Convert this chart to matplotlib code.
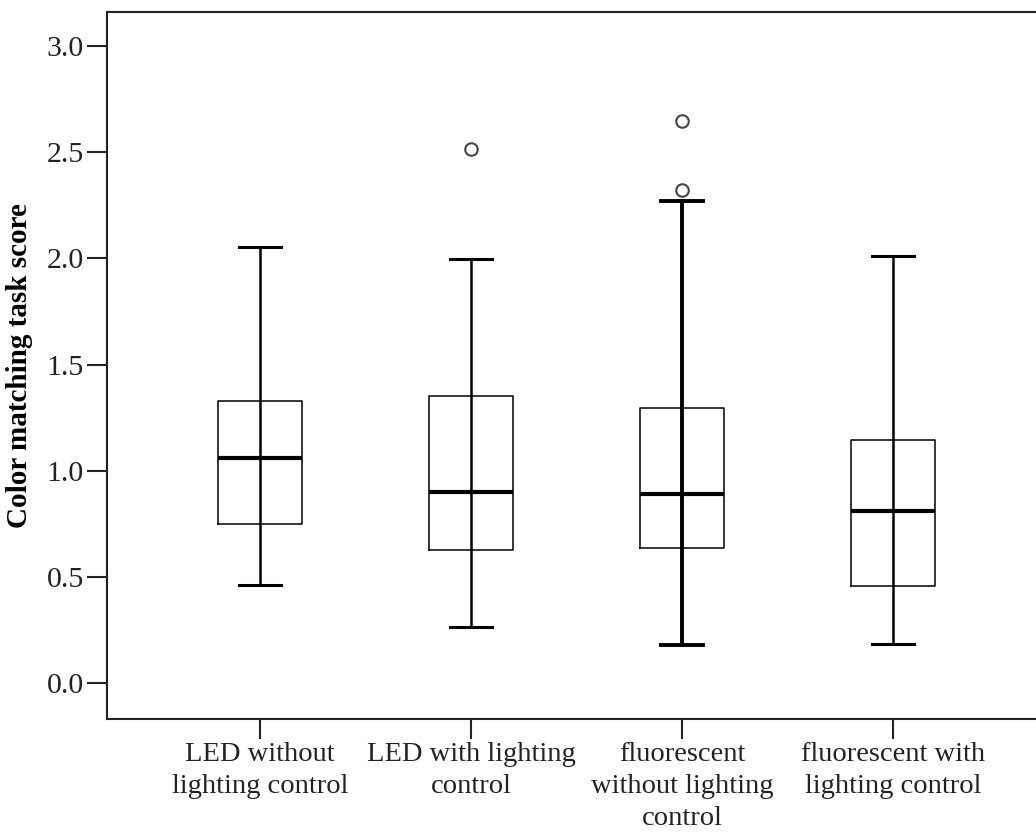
import matplotlib
matplotlib.use("Agg")
import matplotlib.pyplot as plt

# Group labels
categories = [
    "LED without\nlighting control",
    "LED with lighting\ncontrol",
    "fluorescent\nwithout lighting\ncontrol",
    "fluorescent with\nlighting control",
]

# Five-number summaries per group
whisker_low = [0.463, 0.266, 0.182, 0.185]
q1 = [0.749, 0.626, 0.638, 0.459]
median = [1.059, 0.903, 0.893, 0.810]
q3 = [1.330, 1.352, 1.294, 1.144]
whisker_high = [2.055, 1.998, 2.268, 2.012]
outliers = [[], [2.513], [2.320, 2.645], []]

y_ticks = [0.0, 0.5, 1.0, 1.5, 2.0, 2.5, 3.0]

plt.rcParams["font.family"] = ["Liberation Serif", "DejaVu Serif"]

fig = plt.figure(figsize=(10.36, 8.39), dpi=100)
ax = fig.add_axes([107 / 1036, 120 / 839, (1046 - 107) / 1036, (719 - 11.5) / 839])

stats = []
for i, name in enumerate(categories):
    stats.append(dict(
        label=name,
        whislo=whisker_low[i], q1=q1[i], med=median[i], q3=q3[i],
        whishi=whisker_high[i], fliers=outliers[i],
    ))

positions = [1, 2, 3, 4]
bp = ax.bxp(
    stats, positions=positions, widths=0.40, showfliers=True,
    boxprops=dict(color="black", linewidth=1.1),
    whiskerprops=dict(color="black", linewidth=1.8),
    capprops=dict(color="black", linewidth=2.2),
    medianprops=dict(color="black", linewidth=3.0),
    flierprops=dict(marker="o", markersize=9, markerfacecolor="white",
                    markeredgecolor="#444444", markeredgewidth=1.5),
    capwidths=0.20,
)

# whiskers run as one continuous stem through the box
for i in range(len(categories)):
    low_w, high_w = bp["whiskers"][2 * i], bp["whiskers"][2 * i + 1]
    low_w.set_ydata([median[i], whisker_low[i]])
    high_w.set_ydata([median[i], whisker_high[i]])
    for w in (low_w, high_w):
        w.set_zorder(1.5)

# the third group is drawn with heavier whiskers
for artist in bp["whiskers"][4:6] + bp["caps"][4:6]:
    artist.set_linewidth(2.8)

ax.set_xlim(0.275, 4.725)
ax.set_ylim(-0.167, 3.161)
ax.set_yticks(y_ticks)
ax.set_yticklabels([f"{v:.1f}" for v in y_ticks])
ax.set_xticks(positions)
ax.set_xticklabels(categories, linespacing=1.38)

ax.tick_params(axis="both", length=14.5, width=1.5, color="#222222",
               labelcolor="#222222")
ax.tick_params(axis="y", pad=2, labelsize=21.5)
ax.tick_params(axis="x", pad=2, labelsize=20.5)

for side in ["left", "bottom", "top", "right"]:
    ax.spines[side].set_linewidth(1.5)
    ax.spines[side].set_color("#222222")

ax.set_ylabel("Color matching task score", fontsize=21, fontweight="bold",
              labelpad=10)

fig.savefig("out.png", dpi=100)
